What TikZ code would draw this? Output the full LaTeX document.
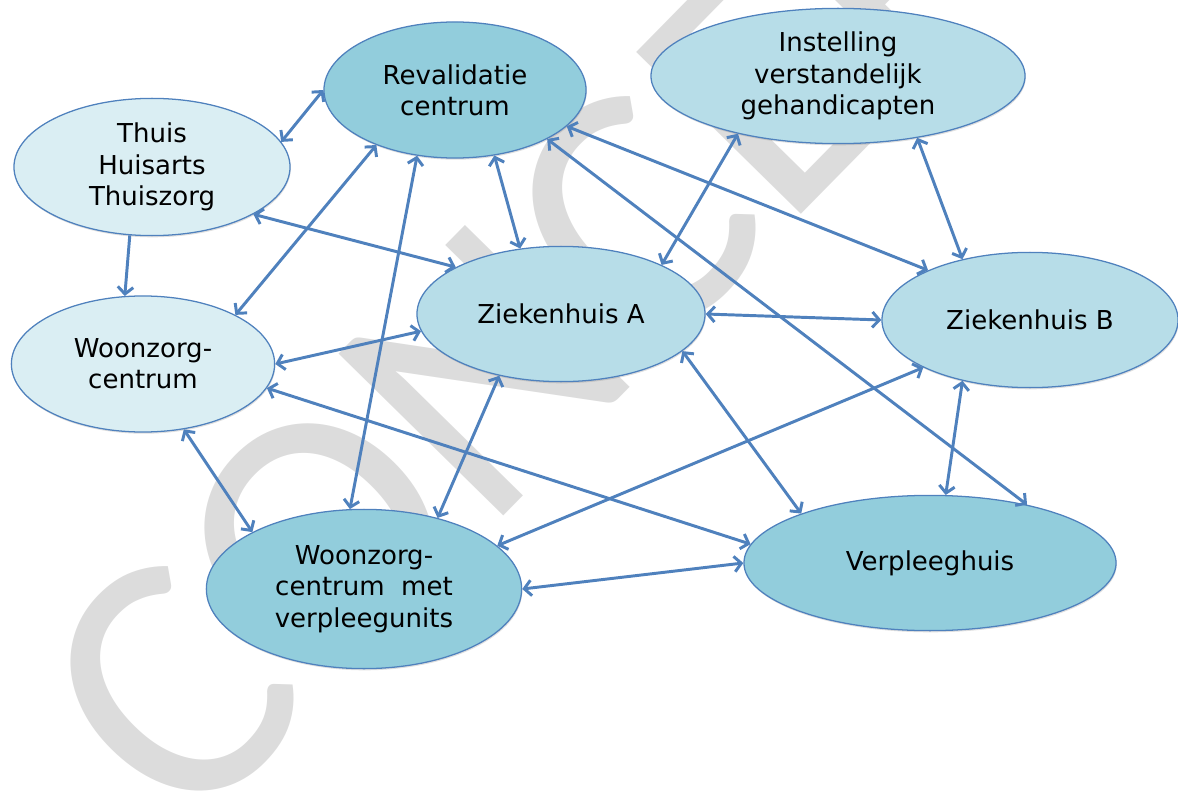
\documentclass[tikz,border=0pt]{standalone}
\usepackage{fontspec}
\setmainfont{DejaVu Sans}
\newfontfamily\markfont{Carlito}
\usetikzlibrary{shapes.geometric,arrows.meta,shadows}
\definecolor{edgeblue}{HTML}{4F81BD}
\definecolor{palefill}{HTML}{DAEEF3}
\definecolor{midfill}{HTML}{B7DDE8}
\definecolor{deepfill}{HTML}{92CDDC}
\definecolor{markgrey}{HTML}{DCDCDC}
\tikzstyle{org} = [draw=edgeblue, line width=0.9pt, ellipse, inner sep=0pt, align=center, font={\fontsize{18.5}{22.3}\selectfont}, drop shadow={shadow xshift=0.5pt, shadow yshift=-1.2pt, opacity=0.25}]
\tikzstyle{pale} = [fill=palefill]
\tikzstyle{midtone} = [fill=midfill]
\tikzstyle{deep} = [fill=deepfill]
\tikzstyle{link} = [draw=edgeblue, line width=2.1pt, <->]
\tikzstyle{oneway} = [draw=edgeblue, line width=2.1pt, ->]

\begin{document}
\begin{tikzpicture}[x=0.025cm, y=-0.025cm, >={Straight Barb[length=5pt,width=11pt]}]
  \useasboundingbox (0,0) rectangle (1178,794);
  % watermark
  \node[text=markgrey, rotate=45.5, font={\markfont\fontsize{256}{256}\selectfont}] (mark) at (590,264) {CONCEPT};
  % organisations
  \node[org,pale,minimum width=6.9cm,minimum height=3.43cm](thuis) at (152,167){Thuis\\Huisarts\\Thuiszorg};
  \node[org,deep,minimum width=6.55cm,minimum height=3.4cm](rev) at (455,90){Revalidatie\\centrum};
  \node[org,midtone,minimum width=9.35cm,minimum height=3.38cm](inst) at (838,76){Instelling\\verstandelijk\\gehandicapten};
  \node[org,midtone,minimum width=7.2cm,minimum height=3.38cm](za) at (561,314){Ziekenhuis A};
  \node[org,midtone,minimum width=7.4cm,minimum height=3.38cm](zb) at (1030,320){Ziekenhuis B};
  \node[org,pale,minimum width=6.58cm,minimum height=3.4cm](wz) at (143,364){Woonzorg-\\centrum};
  \node[org,deep,minimum width=7.88cm,minimum height=3.98cm](wzv) at (364,589){Woonzorg-\\centrum\ \ met\\verpleegunits};
  \node[org,deep,minimum width=9.3cm,minimum height=3.38cm](vh) at (930,563){Verpleeghuis};
  % connections
  \draw[oneway](thuis.252)--(wz.105);
  \draw[link](thuis.11)--(rev.180);
  \draw[link](thuis.335)--(za.156);
  \draw[link](rev.215)--(wz.28);
  \draw[link](rev.240)--(wzv.100);
  \draw[link](rev.301)--(za.122);
  \draw[link](rev.342)--(zb.154);
  \draw[link](rev.332)--(vh.31);
  \draw[link](inst.210)--(za.26);
  \draw[link](inst.322)--(zb.138);
  \draw[link](za.0)--(zb.180);
  \draw[link](za.187)--(wz.0);
  \draw[link](za.225)--(wzv.44);
  \draw[link](za.343)--(vh.159);
  \draw[link](wz.302)--(wzv.153);
  \draw[link](wz.349)--(vh.174);
  \draw[link](zb.204)--(wzv.18);
  \draw[link](zb.222)--(vh.77);
  \draw[link](wzv.0)--(vh.180);
\end{tikzpicture}
\end{document}
